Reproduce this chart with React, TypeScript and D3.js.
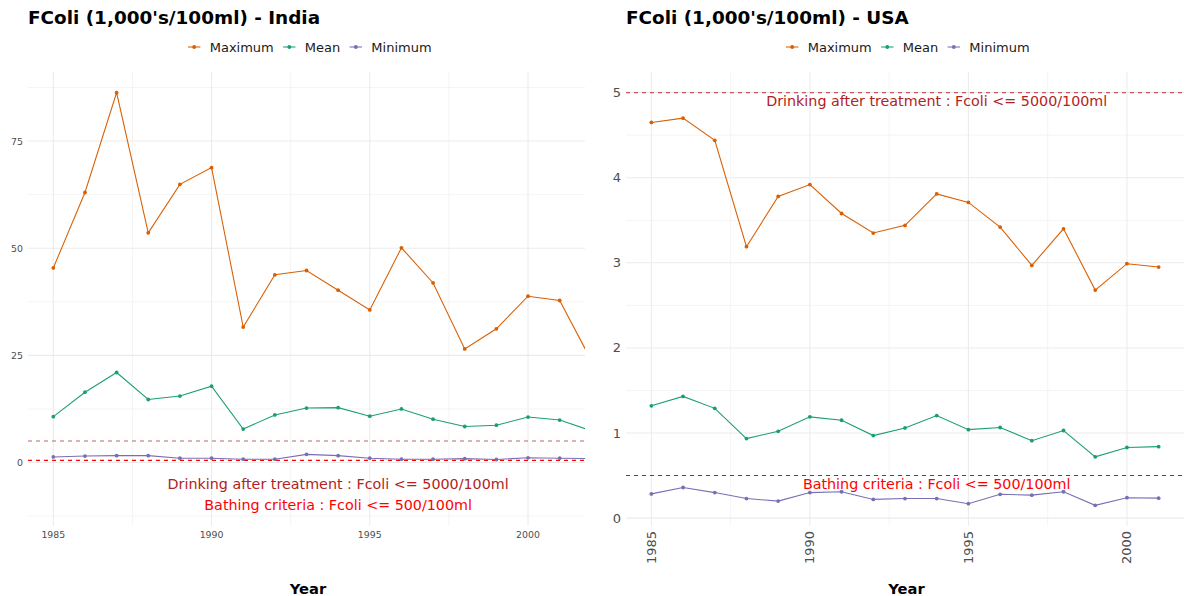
import React from "react";
import * as d3 from "d3";

// ---------------- DATA ----------------
const indiaYears = [1985, 1986, 1987, 1988, 1989, 1990, 1991, 1992, 1993, 1994, 1995, 1996, 1997, 1998, 1999, 2000, 2001, 2002];
const indiaMax = [45.4, 63.0, 86.3, 53.6, 64.9, 68.8, 31.6, 43.8, 44.8, 40.2, 35.6, 50.1, 41.9, 26.5, 31.2, 38.8, 37.8, 23.8];
const indiaMean = [10.7, 16.4, 21.0, 14.7, 15.5, 17.8, 7.8, 11.1, 12.7, 12.8, 10.8, 12.5, 10.1, 8.4, 8.7, 10.6, 9.9, 7.4];
const indiaMin = [1.3, 1.5, 1.6, 1.6, 1.0, 1.0, 0.77, 0.77, 1.9, 1.6, 1.0, 0.77, 0.77, 0.9, 0.7, 1.1, 1.0, 0.9];

const usaYears = [1985, 1986, 1987, 1988, 1989, 1990, 1991, 1992, 1993, 1994, 1995, 1996, 1997, 1998, 1999, 2000, 2001];
const usaMax = [4.65, 4.70, 4.44, 3.19, 3.78, 3.92, 3.58, 3.35, 3.44, 3.81, 3.71, 3.42, 2.97, 3.40, 2.68, 2.99, 2.95];
const usaMean = [1.32, 1.43, 1.29, 0.935, 1.02, 1.19, 1.15, 0.97, 1.06, 1.205, 1.04, 1.065, 0.91, 1.03, 0.72, 0.83, 0.84];
const usaMin = [0.285, 0.36, 0.30, 0.23, 0.20, 0.30, 0.31, 0.22, 0.23, 0.23, 0.17, 0.28, 0.27, 0.31, 0.15, 0.24, 0.235];

const seriesNames = ["Maximum", "Mean", "Minimum"];
const seriesColors = ["#D95F02", "#1B9E77", "#7570B3"];

const xLimits = [1985, 2001];
const xTicks = [1985, 1990, 1995, 2000];
const xMinorTicks = [1987.5, 1992.5, 1997.5];

const indiaYTicks = [0, 25, 50, 75];
const indiaYMinor = [-12.5, 12.5, 37.5, 62.5, 87.5];
const usaYTicks = [0, 1, 2, 3, 4, 5];
const usaYMinor = [0.5, 1.5, 2.5, 3.5, 4.5];

const drinkingLimit = 5; // thousands per 100ml
const bathingLimit = 0.5;
const drinkingLabel = "Drinking after treatment : Fcoli <= 5000/100ml";
const bathingLabel = "Bathing criteria : Fcoli <= 500/100ml";
const indiaLabelY = [-5, -10];
const usaLabelY = [4.9, 0.4];
const labelYear = 1994;

const FONT = "DejaVu Sans, Verdana, sans-serif";

function measure(text: string, font: string): number {
  const c = document.createElement("canvas");
  const ctx = c.getContext("2d")!;
  ctx.font = font;
  return ctx.measureText(text).width;
}

type PanelProps = {
  id: string;
  title: string;
  titleX: number;
  titleSize: number;
  left: number;
  right: number;
  years: number[];
  series: number[][];
  labelY: number[];
  yTicks: number[];
  yMinor: number[];
  tickSize: number;
  legendSize: number;
  legendX: number;
  rotateX: boolean;
};

function Panel(p: PanelProps) {
  const top = 72;
  const bottom = 526;
  const xr = xLimits[1] - xLimits[0];
  const x = d3
    .scaleLinear()
    .domain([xLimits[0] - xr * 0.05, xLimits[1] + xr * 0.05])
    .range([p.left, p.right]);
  const allY = [...p.series.flat(), ...p.labelY, drinkingLimit, bathingLimit];
  const [ymin, ymax] = d3.extent(allY) as [number, number];
  const yr = ymax - ymin;
  const y = d3
    .scaleLinear()
    .domain([ymin - yr * 0.05, ymax + yr * 0.05])
    .range([bottom, top]);

  const line = d3
    .line<number>()
    .x((_, i) => x(p.years[i]))
    .y((d) => y(d));

  const legendFont = `${p.legendSize}px ${FONT}`;
  const keyW = p.legendSize * 0.95;
  const gap = p.legendSize * 0.72;
  let lx = p.legendX;
  const legendItems = seriesNames.map((name, i) => {
    const item = { name, color: seriesColors[i], kx: lx, tx: lx + keyW + gap };
    lx = item.tx + measure(name, legendFont) + gap;
    return item;
  });

  const clipId = `clip-${p.id}`;
  const yMinVis = y.domain()[0];
  const yMaxVis = y.domain()[1];

  return (
    <g>
      <defs>
        <clipPath id={clipId}>
          <rect x={p.left} y={top} width={p.right - p.left} height={bottom - top} />
        </clipPath>
      </defs>
      <text x={p.titleX} y={24} fontFamily={FONT} fontWeight="bold" fontSize={p.titleSize} fill="#000">
        {p.title}
      </text>
      {legendItems.map((it) => (
        <g key={it.name}>
          <line x1={it.kx} x2={it.kx + keyW} y1={47} y2={47} stroke={it.color} strokeWidth={1.07} />
          <circle cx={it.kx + keyW / 2} cy={47} r={1.9} fill={it.color} />
          <text x={it.tx} y={47} dominantBaseline="central" fontFamily={FONT} fontSize={p.legendSize} fill="#1a1a1a">
            {it.name}
          </text>
        </g>
      ))}
      {/* grid */}
      {p.yMinor
        .filter((v) => v >= yMinVis && v <= yMaxVis)
        .map((v) => (
          <line key={"ym" + v} x1={p.left} x2={p.right} y1={y(v)} y2={y(v)} stroke="#EBEBEB" strokeWidth={0.55} />
        ))}
      {xMinorTicks.map((v) => (
        <line key={"xm" + v} x1={x(v)} x2={x(v)} y1={top} y2={bottom} stroke="#EBEBEB" strokeWidth={0.55} />
      ))}
      {p.yTicks.map((v) => (
        <line key={"y" + v} x1={p.left} x2={p.right} y1={y(v)} y2={y(v)} stroke="#EBEBEB" strokeWidth={1.07} />
      ))}
      {xTicks.map((v) => (
        <line key={"x" + v} x1={x(v)} x2={x(v)} y1={top} y2={bottom} stroke="#EBEBEB" strokeWidth={1.07} />
      ))}
      {/* axis labels */}
      {p.yTicks.map((v) => (
        <text
          key={"yl" + v}
          x={p.left - 5}
          y={y(v)}
          textAnchor="end"
          dominantBaseline="central"
          fontFamily={FONT}
          fontSize={p.tickSize}
          fill="#4D4D4D"
        >
          {v}
        </text>
      ))}
      {xTicks.map((v) =>
        p.rotateX ? (
          <text
            key={"xl" + v}
            transform={`translate(${x(v)},${bottom + 5}) rotate(-90)`}
            textAnchor="end"
            dominantBaseline="central"
            fontFamily={FONT}
            fontSize={p.tickSize}
            fill="#4D4D4D"
          >
            {v}
          </text>
        ) : (
          <text
            key={"xl" + v}
            x={x(v)}
            y={bottom + 8}
            textAnchor="middle"
            dominantBaseline="central"
            fontFamily={FONT}
            fontSize={p.tickSize}
            fill="#4D4D4D"
          >
            {v}
          </text>
        )
      )}
      <text
        x={(p.left + p.right) / 2 + 1.5}
        y={588}
        textAnchor="middle"
        dominantBaseline="central"
        fontFamily={FONT}
        fontWeight="bold"
        fontSize={14.7}
        fill="#000"
      >
        Year
      </text>
      {/* data */}
      <g clipPath={`url(#${clipId})`}>
        <line
          x1={p.left}
          x2={p.right}
          y1={y(drinkingLimit)}
          y2={y(drinkingLimit)}
          stroke="#B22222"
          strokeOpacity={0.7}
          strokeWidth={1.07}
          strokeDasharray="4,4"
        />
        <line
          x1={p.left}
          x2={p.right}
          y1={y(bathingLimit)}
          y2={y(bathingLimit)}
          stroke="#FF0000"
          strokeWidth={1.07}
          strokeDasharray="4,4"
        />
        {p.series.map((s, i) => (
          <g key={"s" + i}>
            <path d={line(s) || ""} fill="none" stroke={seriesColors[i]} strokeWidth={1.07} />
            {s.map((v, j) => (
              <circle key={j} cx={x(p.years[j])} cy={y(v)} r={1.9} fill={seriesColors[i]} />
            ))}
          </g>
        ))}
        <text
          x={x(labelYear)}
          y={y(p.labelY[0])}
          textAnchor="middle"
          dominantBaseline="central"
          fontFamily={FONT}
          fontSize={14.3}
          fill="#B22222"
        >
          {drinkingLabel}
        </text>
        <text
          x={x(labelYear)}
          y={y(p.labelY[1])}
          textAnchor="middle"
          dominantBaseline="central"
          fontFamily={FONT}
          fontSize={14.3}
          fill="#FF0000"
        >
          {bathingLabel}
        </text>
      </g>
    </g>
  );
}

export default function App() {
  return (
    <svg
      width={1185}
      height={596}
      style={{ position: "absolute", left: 0, top: 0, background: "#fff" }}
    >
      <rect width={1185} height={596} fill="#fff" />
      <Panel
        id="india"
        title="FColi (1,000's/100ml) - India"
        titleX={28}
        titleSize={18.4}
        left={28}
        right={585}
        years={indiaYears}
        series={[indiaMax, indiaMean, indiaMin]}
        labelY={indiaLabelY}
        yTicks={indiaYTicks}
        yMinor={indiaYMinor}
        tickSize={9.4}
        legendSize={13}
        legendX={188}
        rotateX={false}
      />
      <Panel
        id="usa"
        title="FColi (1,000's/100ml) - USA"
        titleX={626}
        titleSize={18.4}
        left={626}
        right={1184}
        years={usaYears}
        series={[usaMax, usaMean, usaMin]}
        labelY={usaLabelY}
        yTicks={usaYTicks}
        yMinor={usaYMinor}
        tickSize={13}
        legendSize={13}
        legendX={786}
        rotateX={true}
      />
    </svg>
  );
}
